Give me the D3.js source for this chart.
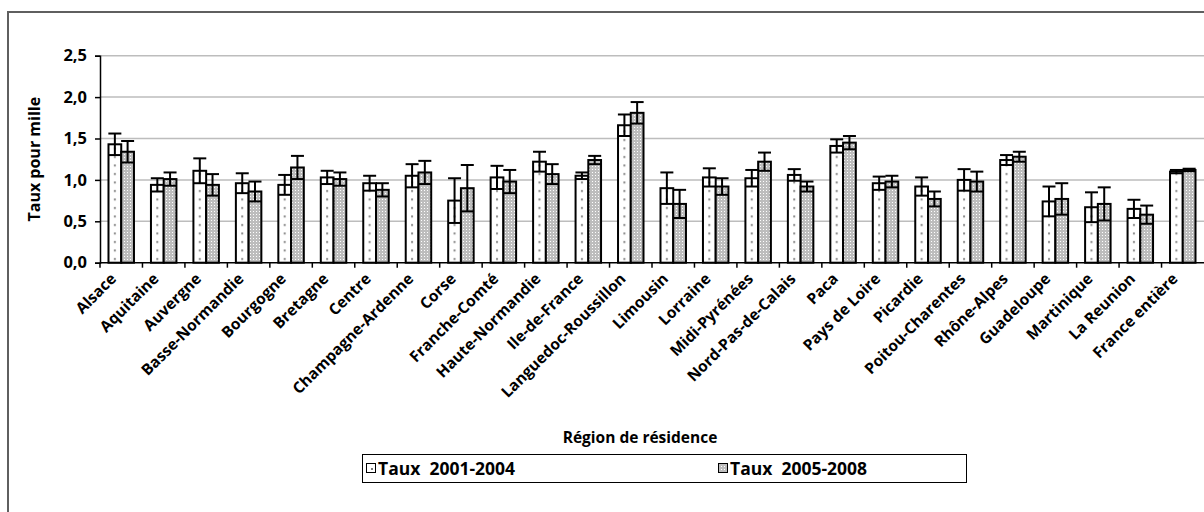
<!DOCTYPE html>
<html>
<head>
<meta charset="utf-8">
<script src="https://cdn.jsdelivr.net/npm/d3@7"></script>
<style>
  html, body { margin: 0; padding: 0; background: #fff; }
  svg { display: block; font-family: "Open Sans", sans-serif; font-weight: 700; }
  text { white-space: pre; }
</style>
</head>
<body>
<svg id="chart" width="1204" height="512"></svg>
<script>
// Régions de résidence
const categories = ["Alsace", "Aquitaine", "Auvergne", "Basse-Normandie", "Bourgogne", "Bretagne",
  "Centre", "Champagne-Ardenne", "Corse", "Franche-Comté", "Haute-Normandie", "Ile-de-France",
  "Languedoc-Roussillon", "Limousin", "Lorraine", "Midi-Pyrénées", "Nord-Pas-de-Calais", "Paca",
  "Pays de Loire", "Picardie", "Poitou-Charentes", "Rhône-Alpes", "Guadeloupe", "Martinique",
  "La Reunion", "France entière"];

// Taux pour mille et demi-intervalles de confiance
const taux2001 = [1.43, 0.94, 1.11, 0.96, 0.94, 1.03, 0.96, 1.05, 0.75, 1.03, 1.22, 1.05, 1.66,
  0.90, 1.03, 1.02, 1.06, 1.41, 0.96, 0.92, 1.00, 1.24, 0.74, 0.67, 0.65, 1.10];
const err2001 = [0.13, 0.08, 0.15, 0.12, 0.12, 0.08, 0.09, 0.14, 0.27, 0.14, 0.12, 0.04, 0.13,
  0.19, 0.11, 0.10, 0.07, 0.08, 0.08, 0.11, 0.13, 0.06, 0.18, 0.18, 0.11, 0.02];
const taux2005 = [1.34, 1.01, 0.94, 0.86, 1.15, 1.01, 0.88, 1.09, 0.90, 0.98, 1.07, 1.24, 1.81,
  0.71, 0.92, 1.22, 0.92, 1.45, 0.98, 0.77, 0.98, 1.28, 0.77, 0.71, 0.58, 1.12];
const err2005 = [0.13, 0.08, 0.13, 0.12, 0.14, 0.08, 0.08, 0.14, 0.28, 0.14, 0.12, 0.05, 0.13,
  0.17, 0.10, 0.11, 0.06, 0.08, 0.07, 0.09, 0.12, 0.06, 0.19, 0.20, 0.11, 0.015];

const seriesNames = ["Taux  2001-2004", "Taux  2005-2008"];
const yTicks = [0, 0.5, 1.0, 1.5, 2.0, 2.5];
const yTitle = "Taux pour mille";
const xTitle = "Région de résidence";

const svg = d3.select("#chart");
const plotLeft = 100, plotRight = 1204, plotTop = 55.7, plotBottom = 262.7;

const x = d3.scaleBand().domain(categories).range([plotLeft, plotRight]).padding(0);
const step = x.bandwidth();
const xSeries = d3.scaleBand().domain([0, 1]).range([step * 0.2, step * 0.8]).padding(0);
const y = d3.scaleLinear().domain([0, 2.5]).range([plotBottom, plotTop]);

// Motifs de remplissage
const defs = svg.append("defs");
const dotX = xSeries(0) + xSeries.bandwidth() / 2;
const p1 = defs.append("pattern").attr("id", "pat1").attr("patternUnits", "userSpaceOnUse")
  .attr("x", plotLeft).attr("y", 0).attr("width", step).attr("height", 8.5);
p1.append("rect").attr("width", step).attr("height", 8.5).attr("fill", "#fff");
p1.append("rect").attr("x", dotX - 1).attr("y", 3).attr("width", 2).attr("height", 2).attr("fill", "#8a8a8a");

const p2 = defs.append("pattern").attr("id", "pat2").attr("patternUnits", "userSpaceOnUse")
  .attr("x", 0).attr("y", 0).attr("width", 3).attr("height", 3);
p2.append("rect").attr("width", 3).attr("height", 3).attr("fill", "#bdbdbd");
p2.append("rect").attr("x", 1).attr("y", 1).attr("width", 1).attr("height", 1).attr("fill", "#ffffff");

// Cadre extérieur
svg.append("rect").attr("x", 8).attr("y", 12).attr("width", 1220).attr("height", 520)
  .attr("fill", "none").attr("stroke", "#5f5f5f").attr("stroke-width", 2);

// Grille horizontale
svg.append("g").selectAll("line").data(yTicks.filter(d => d > 0)).join("line")
  .attr("x1", plotLeft).attr("x2", 1204)
  .attr("y1", d => y(d)).attr("y2", d => y(d))
  .attr("stroke", "#bdbdbd").attr("stroke-width", 1.5);

// Axe des ordonnées
const yAxis = svg.append("g").attr("transform", `translate(${plotLeft},0)`)
  .call(d3.axisLeft(y).tickValues(yTicks).tickSize(5).tickPadding(8)
    .tickFormat(d => d3.format(".1f")(d).replace(".", ",")));
yAxis.select(".domain").attr("stroke", "#000").attr("stroke-width", 1.5);
yAxis.selectAll(".tick line").attr("stroke", "#000").attr("stroke-width", 1.5);
yAxis.selectAll(".tick text").attr("font-size", 16.5).attr("font-weight", 700)
  .attr("font-family", "'Open Sans', sans-serif").attr("fill", "#000");

// Barres
const series = [
  { values: taux2001, errors: err2001, fill: "url(#pat1)" },
  { values: taux2005, errors: err2005, fill: "url(#pat2)" }
];
const barsG = svg.append("g");
series.forEach((s, si) => {
  const g = barsG.append("g");
  g.selectAll("rect").data(categories).join("rect")
    .attr("x", d => x(d) + xSeries(si))
    .attr("y", (d, i) => y(s.values[i]))
    .attr("width", xSeries.bandwidth())
    .attr("height", (d, i) => y(0) - y(s.values[i]))
    .attr("fill", s.fill).attr("stroke", "#000").attr("stroke-width", 2);
});

// Barres d'erreur
series.forEach((s, si) => {
  const g = barsG.append("g").attr("stroke", "#000").attr("stroke-width", 2);
  const cx = d => x(d) + xSeries(si) + xSeries.bandwidth() / 2;
  const cap = 6.5;
  g.selectAll("line.v").data(categories).join("line").attr("class", "v")
    .attr("x1", cx).attr("x2", cx)
    .attr("y1", (d, i) => y(s.values[i] + s.errors[i]))
    .attr("y2", (d, i) => y(s.values[i] - s.errors[i]));
  g.selectAll("line.hi").data(categories).join("line").attr("class", "hi")
    .attr("x1", d => cx(d) - cap).attr("x2", d => cx(d) + cap)
    .attr("y1", (d, i) => y(s.values[i] + s.errors[i]))
    .attr("y2", (d, i) => y(s.values[i] + s.errors[i]));
  g.selectAll("line.lo").data(categories).join("line").attr("class", "lo")
    .attr("x1", d => cx(d) - cap).attr("x2", d => cx(d) + cap)
    .attr("y1", (d, i) => y(s.values[i] - s.errors[i]))
    .attr("y2", (d, i) => y(s.values[i] - s.errors[i]));
});

// Axe des abscisses
svg.append("line").attr("x1", plotLeft).attr("x2", 1204).attr("y1", plotBottom).attr("y2", plotBottom)
  .attr("stroke", "#000").attr("stroke-width", 1.5);
svg.append("g").selectAll("line").data(categories).join("line")
  .attr("x1", d => x(d)).attr("x2", d => x(d))
  .attr("y1", plotBottom).attr("y2", plotBottom + 5)
  .attr("stroke", "#000").attr("stroke-width", 1.5);

svg.append("g").selectAll("text").data(categories).join("text")
  .attr("transform", d => `translate(${x(d) + step / 2 - 4},${plotBottom + 17}) rotate(-45)`)
  .attr("text-anchor", "end")
  .attr("font-size", 15.5)
  .attr("fill", "#000")
  .text(d => d);

// Titres des axes
svg.append("text")
  .attr("transform", `translate(40,${(plotTop + plotBottom) / 2}) rotate(-90)`)
  .attr("text-anchor", "middle").attr("font-size", 16).attr("fill", "#000")
  .text(yTitle);
svg.append("text")
  .attr("x", 640).attr("y", 443)
  .attr("text-anchor", "middle").attr("font-size", 15.5).attr("fill", "#000")
  .text(xTitle);

// Légende
const legend = svg.append("g");
legend.append("rect").attr("x", 362.5).attr("y", 454.5).attr("width", 604).attr("height", 28)
  .attr("fill", "#fff").attr("stroke", "#000").attr("stroke-width", 1);
const legendX = [366, 718];
const legendFill = ["#fff", "url(#pat2)"];
seriesNames.forEach((name, i) => {
  legend.append("rect").attr("x", legendX[i] + 0.5).attr("y", 463.5).attr("width", 9).attr("height", 9)
    .attr("fill", legendFill[i]).attr("stroke", "#000").attr("stroke-width", 1);
  if (i === 0) {
    legend.append("rect").attr("x", legendX[i] + 5).attr("y", 468).attr("width", 2).attr("height", 2)
      .attr("fill", "#777");
  }
  legend.append("text").attr("x", legendX[i] + 12).attr("y", 474.5)
    .attr("font-size", 17.5).attr("fill", "#000").text(name);
});
</script>
</body>
</html>
